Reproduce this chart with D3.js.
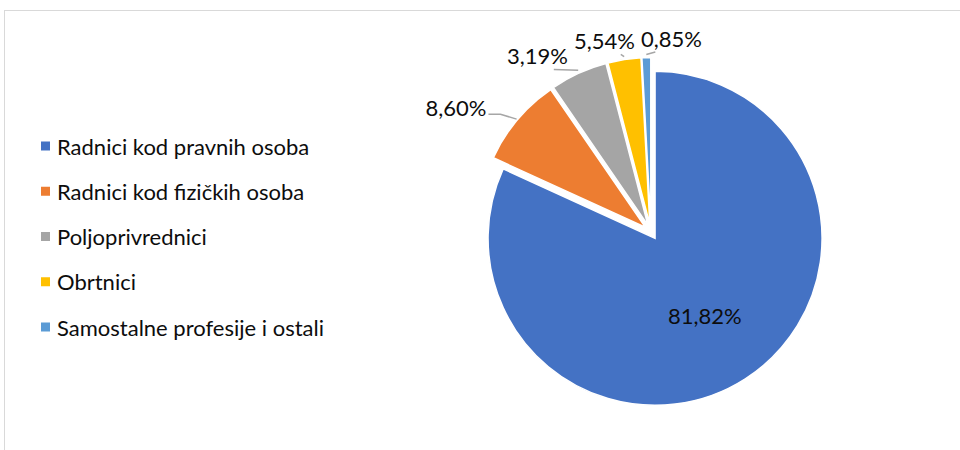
<!DOCTYPE html>
<html>
<head>
<meta charset="utf-8">
<script src="https://cdn.jsdelivr.net/npm/d3@7"></script>
<style>
  body { margin: 0; background: #fff; }
  svg { display: block; }
  text { font-family: Lato, "Open Sans", sans-serif; fill: #0d0d0d; }
</style>
</head>
<body>
<svg id="chart" width="960" height="450"></svg>
<script>
// data
var categories = ["Radnici kod pravnih osoba", "Radnici kod fizičkih osoba", "Poljoprivrednici", "Obrtnici", "Samostalne profesije i ostali"];
var values = [81.82, 8.60, 5.54, 3.19, 0.85];
var labels = ["81,82%", "8,60%", "3,19%", "5,54%", "0,85%"];
var colors = ["#4472C4", "#ED7D31", "#A5A5A5", "#FFC000", "#5B9BD5"];

var width = 960, height = 450;
var cx = 651, cy = 232, r = 167, explode = 7.5;

var svg = d3.select("#chart");

// chart border
svg.append("rect")
    .attr("x", 4.5).attr("y", 10.5)
    .attr("width", 1000).attr("height", 500)
    .attr("fill", "none")
    .attr("stroke", "#d9d9d9")
    .attr("stroke-width", 1);

var color = d3.scaleOrdinal().domain(categories).range(colors);

var pie = d3.pie().sort(null).value(function (d) { return d; }).startAngle(0).endAngle(2 * Math.PI);
var arcs = pie(values);
arcs.forEach(function (d, i) {
    d.name = categories[i];
    d.label = labels[i];
    d.mid = (d.startAngle + d.endAngle) / 2;
    d.ox = explode * Math.sin(d.mid);
    d.oy = -explode * Math.cos(d.mid);
});

var arc = d3.arc().innerRadius(0).outerRadius(r);

var g = svg.append("g").attr("transform", "translate(" + cx + "," + cy + ")");

g.selectAll("path.slice")
    .data(arcs)
    .enter()
    .append("path")
    .attr("class", "slice")
    .attr("transform", function (d) { return "translate(" + d.ox + "," + d.oy + ")"; })
    .attr("d", arc)
    .attr("fill", function (d) { return color(d.name); })
    .attr("stroke", "#fff")
    .attr("stroke-width", 1.5);

// inside label for the big slice
var big = arcs[0];
var inArc = d3.arc().innerRadius(r * 0.55).outerRadius(r * 0.55);
g.append("text")
    .attr("transform", function () {
        var c = inArc.centroid(big);
        return "translate(" + (c[0] + big.ox) + "," + (c[1] + big.oy) + ")";
    })
    .attr("text-anchor", "middle")
    .attr("dominant-baseline", "central")
    .style("font-size", "22px")
    .text(big.label);

// outside labels for the small slices
var small = arcs.slice(1);
var labelR = 194, labelW = 65;
small.forEach(function (d) {
    d.lx = labelR * Math.sin(d.mid);
    d.ly = -labelR * Math.cos(d.mid);
});
// push overlapping top labels apart, right to left
for (var k = 0; k < 20; k++) {
    for (var i = small.length - 1; i > 0; i--) {
        var a = small[i], b = small[i - 1];
        if (Math.abs(a.ly - b.ly) < 22) {
            var gap = a.lx - b.lx;
            if (gap < labelW + 2) {
                var push = (labelW + 2 - gap) / 2;
                a.lx += push;
                b.lx -= push;
            }
        }
    }
}

var outer = d3.arc().innerRadius(r + 1).outerRadius(r + 1);

small.forEach(function (d) {
    var p = outer.centroid(d);
    var px = p[0] + d.ox, py = p[1] + d.oy;
    var side = d.ly > -150; // label beside the pie rather than above
    var tx, anchor, pts;
    if (side) {
        anchor = "end";
        tx = d.lx - 16;
        pts = [[tx + 2, d.ly + 7], [tx + 14, d.ly + 7], [px, py]];
    } else {
        anchor = "middle";
        tx = d.lx - 8;
        var sx = Math.max(tx - labelW / 4, Math.min(tx + labelW / 4, px));
        pts = [[sx, d.ly + 14], [px, py - 2]];
    }
    g.append("path")
        .attr("d", d3.line()(pts))
        .attr("fill", "none")
        .attr("stroke", "#a6a6a6")
        .attr("stroke-width", 1.5);
    g.append("text")
        .attr("x", tx)
        .attr("y", d.ly)
        .attr("text-anchor", anchor)
        .attr("dominant-baseline", "central")
        .style("font-size", "22px")
        .text(d.label);
});

// legend
var ly = d3.scalePoint().domain(categories).range([146, 327]);
var legend = svg.append("g").selectAll("g")
    .data(categories)
    .enter()
    .append("g")
    .attr("transform", function (d) { return "translate(41," + ly(d) + ")"; });

legend.append("rect")
    .attr("x", 0).attr("y", -4.5)
    .attr("width", 9).attr("height", 9)
    .attr("fill", function (d) { return color(d); });

legend.append("text")
    .attr("x", 16)
    .attr("y", 0)
    .attr("dominant-baseline", "central")
    .style("font-size", "22px")
    .text(function (d) { return d; });
</script>
</body>
</html>
